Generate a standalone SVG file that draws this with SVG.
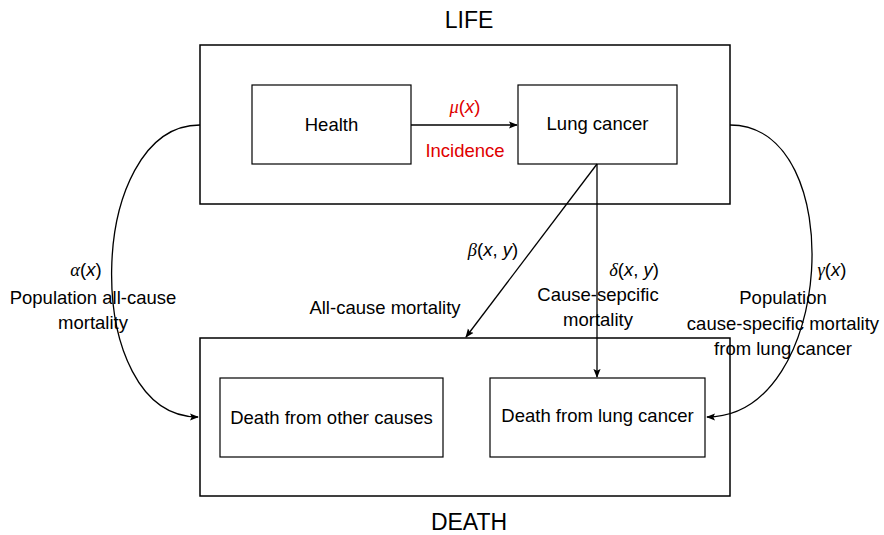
<svg xmlns="http://www.w3.org/2000/svg" width="884" height="535" viewBox="0 0 884 535">
<style>
text{font-family:"Liberation Sans","DejaVu Sans",sans-serif;font-size:18.5px;fill:#000;text-anchor:middle}
.title{font-size:23px}
.red{fill:#e00000}
.g{font-family:"Liberation Serif",serif;font-style:italic}
.i{font-style:italic}
.box{fill:#fff;stroke:#000;stroke-width:1.2}
.big{fill:none;stroke:#000;stroke-width:1.5}
.c{fill:none;stroke:#000;stroke-width:1.3}
</style>
<defs>
<marker id="ah" viewBox="0 0 10 10" refX="9" refY="5" markerWidth="9" markerHeight="9" markerUnits="userSpaceOnUse" orient="auto">
<path d="M0,1 L10,5 L0,9 L2,5 Z" fill="#000"/>
</marker>
</defs>
<g id="life">
<rect class="big" x="200" y="45" width="530" height="159"/>
<text class="title" x="469" y="28">LIFE</text>
</g>
<g id="death">
<rect class="big" x="200" y="338" width="530" height="158"/>
<text class="title" x="469" y="530">DEATH</text>
</g>
<g id="health">
<rect class="box" x="252" y="85" width="159" height="79"/>
<text x="331.5" y="131">Health</text>
</g>
<g id="lungcancer">
<rect class="box" x="518" y="85" width="159" height="79"/>
<text x="597.5" y="130">Lung cancer</text>
</g>
<g id="deathother">
<rect class="box" x="220" y="378" width="223" height="79"/>
<text x="331.5" y="424">Death from other causes</text>
</g>
<g id="deathlung">
<rect class="box" x="490" y="378" width="215" height="79"/>
<text x="597.5" y="422">Death from lung cancer</text>
</g>
<g id="connectors">
<line class="c" x1="411" y1="125" x2="517" y2="125" marker-end="url(#ah)"/>
<line class="c" x1="597" y1="164" x2="466" y2="337" marker-end="url(#ah)"/>
<line class="c" x1="597" y1="164" x2="597" y2="377" marker-end="url(#ah)"/>
<path class="c" d="M200,125 C85,125 80,417 198,417" marker-end="url(#ah)"/>
<path class="c" d="M730,125 C850,125 835,417 707,417" marker-end="url(#ah)"/>
</g>
<g id="labels">
<text class="red" x="465" y="113"><tspan class="g">μ</tspan>(<tspan class="i">x</tspan>)</text>
<text class="red" x="465" y="157">Incidence</text>
<text x="86" y="276"><tspan class="g">α</tspan>(<tspan class="i">x</tspan>)</text>
<text x="93" y="304">Population all-cause</text>
<text x="93" y="329">mortality</text>
<text x="493" y="256"><tspan class="g">β</tspan>(<tspan class="i">x</tspan>, <tspan class="i">y</tspan>)</text>
<text x="385" y="314">All-cause mortality</text>
<text x="634" y="276"><tspan class="g">δ</tspan>(<tspan class="i">x</tspan>, <tspan class="i">y</tspan>)</text>
<text x="598" y="301">Cause-sepcific</text>
<text x="598" y="326">mortality</text>
<text x="832" y="276"><tspan class="g">γ</tspan>(<tspan class="i">x</tspan>)</text>
<text x="783" y="304">Population</text>
<text x="783" y="330">cause-specific mortality</text>
<text x="783" y="355">from lung cancer</text>
</g>
</svg>
